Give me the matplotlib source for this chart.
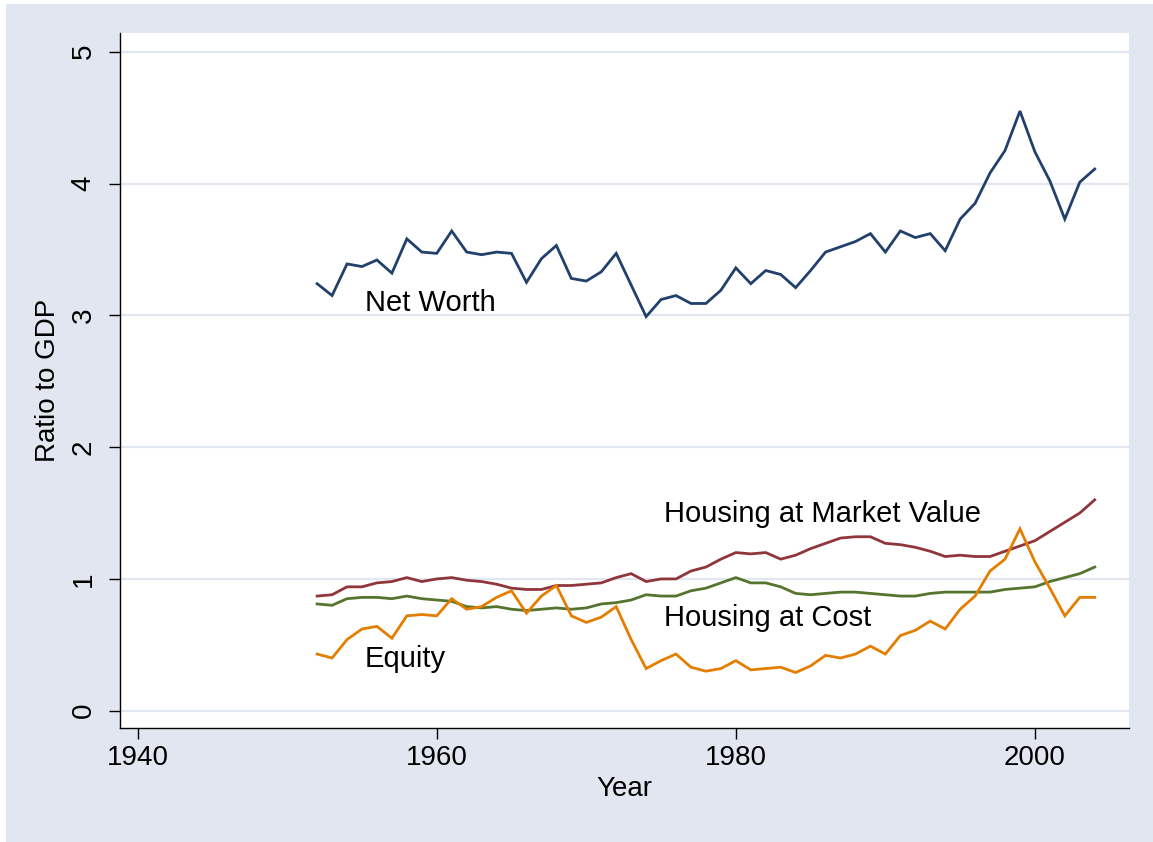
import matplotlib.pyplot as plt
from matplotlib.patches import Rectangle

plt.rcParams["font.family"] = ["Liberation Sans", "DejaVu Sans"]

# Ratio of household balance-sheet items to GDP, 1952-2004
years = list(range(1952, 2005))

net_worth = [
    3.24, 3.15, 3.39, 3.37, 3.42, 3.32, 3.58, 3.48, 3.47, 3.64,
    3.48, 3.46, 3.48, 3.47, 3.25, 3.43, 3.53, 3.28, 3.26, 3.33,
    3.47, 3.23, 2.99, 3.12, 3.15, 3.09, 3.09, 3.19, 3.36, 3.24,
    3.34, 3.31, 3.21, 3.34, 3.48, 3.52, 3.56, 3.62, 3.48, 3.64,
    3.59, 3.62, 3.49, 3.73, 3.85, 4.08, 4.25, 4.55, 4.24, 4.02,
    3.73, 4.01, 4.11,
]

housing_market = [
    0.87, 0.88, 0.94, 0.94, 0.97, 0.98, 1.01, 0.98, 1.00, 1.01,
    0.99, 0.98, 0.96, 0.93, 0.92, 0.92, 0.95, 0.95, 0.96, 0.97,
    1.01, 1.04, 0.98, 1.00, 1.00, 1.06, 1.09, 1.15, 1.20, 1.19,
    1.20, 1.15, 1.18, 1.23, 1.27, 1.31, 1.32, 1.32, 1.27, 1.26,
    1.24, 1.21, 1.17, 1.18, 1.17, 1.17, 1.21, 1.25, 1.29, 1.36,
    1.43, 1.50, 1.60,
]

housing_cost = [
    0.81, 0.80, 0.85, 0.86, 0.86, 0.85, 0.87, 0.85, 0.84, 0.83,
    0.79, 0.78, 0.79, 0.77, 0.76, 0.77, 0.78, 0.77, 0.78, 0.81,
    0.82, 0.84, 0.88, 0.87, 0.87, 0.91, 0.93, 0.97, 1.01, 0.97,
    0.97, 0.94, 0.89, 0.88, 0.89, 0.90, 0.90, 0.89, 0.88, 0.87,
    0.87, 0.89, 0.90, 0.90, 0.90, 0.90, 0.92, 0.93, 0.94, 0.98,
    1.01, 1.04, 1.09,
]

equity = [
    0.43, 0.40, 0.54, 0.62, 0.64, 0.55, 0.72, 0.73, 0.72, 0.85,
    0.77, 0.79, 0.86, 0.91, 0.74, 0.87, 0.95, 0.72, 0.67, 0.71,
    0.79, 0.54, 0.32, 0.38, 0.43, 0.33, 0.30, 0.32, 0.38, 0.31,
    0.32, 0.33, 0.29, 0.34, 0.42, 0.40, 0.43, 0.49, 0.43, 0.57,
    0.61, 0.68, 0.62, 0.77, 0.87, 1.06, 1.15, 1.38, 1.13, 0.93,
    0.72, 0.86, 0.86,
]

series = [
    ("Net Worth", net_worth, "#22406c"),
    ("Housing at Market Value", housing_market, "#90353b"),
    ("Housing at Cost", housing_cost, "#55752f"),
    ("Equity", equity, "#e37e00"),
]

# in-plot labels: (text, year, value)
labels = [
    ("Net Worth", 1955.2, 3.09),
    ("Housing at Market Value", 1975.2, 1.49),
    ("Housing at Cost", 1975.2, 0.70),
    ("Equity", 1955.2, 0.39),
]

BG = "#e1e6f0"
GRID = "#e1e6f0"

fig = plt.figure(figsize=(11.53, 8.42), dpi=100, facecolor="white")
fig.patches.append(Rectangle((6 / 1153, 0), 1, 1 - 4 / 842,
                             transform=fig.transFigure, facecolor=BG,
                             edgecolor="none", zorder=-10))
ax = fig.add_axes([0.1041, 0.1354, 0.8748, 0.8254])
ax.set_facecolor("white")

for name, vals, color in series:
    ax.plot(years, vals, color=color, linewidth=2.0, solid_joinstyle="miter")

for text, x, y in labels:
    ax.text(x, y, text, fontsize=21, ha="left", va="center", color="black")

ax.set_xlim(1938.82, 2006.27)
ax.set_ylim(-0.131, 5.142)
ax.set_xticks([1940, 1960, 1980, 2000])
ax.set_yticks([0, 1, 2, 3, 4, 5])
ax.yaxis.grid(True, color=GRID, linewidth=1.6)
ax.set_axisbelow(True)

for side in ("top", "right"):
    ax.spines[side].set_visible(False)
for side in ("left", "bottom"):
    ax.spines[side].set_linewidth(1.0)
    ax.spines[side].set_color("black")

ax.tick_params(axis="both", direction="out", length=8, width=1.0,
               labelsize=20, colors="black")
ax.tick_params(axis="x", pad=4)
ax.tick_params(axis="y", pad=9)
for lab in ax.get_yticklabels():
    lab.set_rotation(90)
    lab.set_va("center")

ax.set_xlabel("Year", fontsize=20)
ax.set_ylabel("Ratio to GDP", fontsize=20)
ax.xaxis.label.set_va("center")
ax.yaxis.label.set_va("center")
ax.xaxis.set_label_coords(0.5, -0.088)
ax.yaxis.set_label_coords(-0.0714, 0.5)

fig.savefig("out.png", dpi=100, facecolor=fig.get_facecolor())
